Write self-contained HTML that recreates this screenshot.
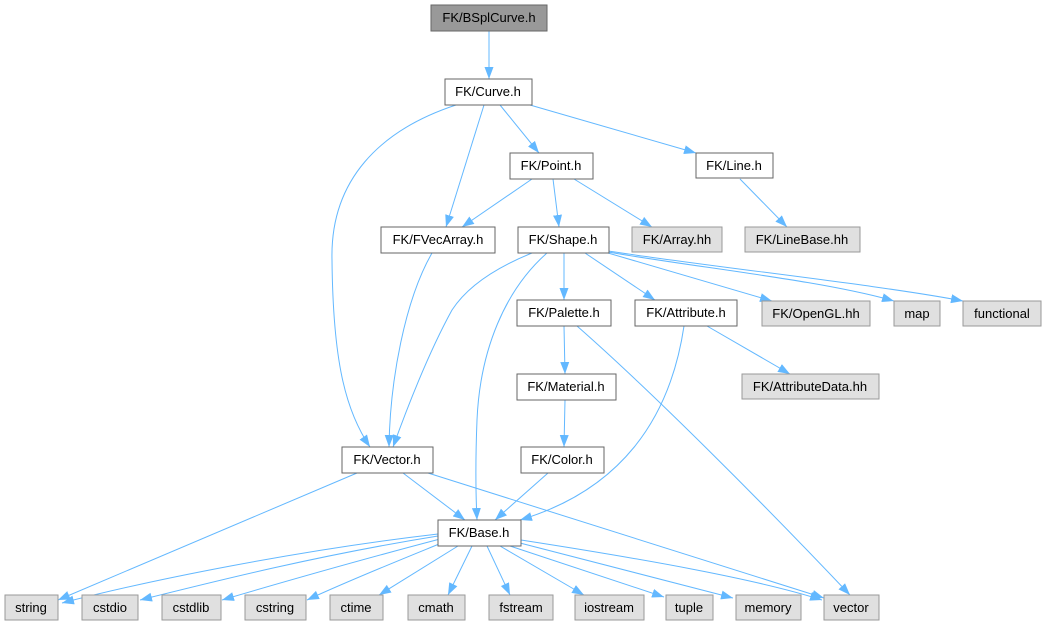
<!DOCTYPE html>
<html><head><meta charset="utf-8"><style>
body{margin:0;background:#fff}
svg{display:block}
text{font-family:"Liberation Sans",sans-serif;font-size:13px;text-anchor:middle}
.n{fill:#fff;stroke:#666;stroke-width:1}
.g{fill:#e0e0e0;stroke:#999;stroke-width:1}
.e{fill:none;stroke:#63b8ff;stroke-width:1}
</style></head><body>
<svg width="1047" height="626" viewBox="0 0 1047 626" xmlns="http://www.w3.org/2000/svg">
<defs><marker id="a" viewBox="0 0 12 10" refX="12" refY="5" markerWidth="12" markerHeight="10" markerUnits="userSpaceOnUse" orient="auto"><path d="M0,0.5 L12,5 L0,9.5 z" fill="#63b8ff"/></marker></defs>
<g marker-end="url(#a)">
<path class="e" d="M489,31 L489,79"/>
<path class="e" d="M456,105 C380,130 330,180 332,260 C333,360 345,410 370,447"/>
<path class="e" d="M484,105 L446,227"/>
<path class="e" d="M500,105 L539,153"/>
<path class="e" d="M530,105 L696,153"/>
<path class="e" d="M532,179 L462,227"/>
<path class="e" d="M553,179 L559,227"/>
<path class="e" d="M574,179 L652,227"/>
<path class="e" d="M740,179 L787,227"/>
<path class="e" d="M432,253 C405,300 390,380 389,447"/>
<path class="e" d="M532,253 C490,270 465,290 452,310 C430,350 410,400 393,447"/>
<path class="e" d="M547,253 C505,290 480,350 477,420 C475,470 476,500 477,520"/>
<path class="e" d="M564,253 L564,300"/>
<path class="e" d="M585,253 L655,300"/>
<path class="e" d="M608,253 L772,301"/>
<path class="e" d="M608,252 C700,268 820,280 894,301"/>
<path class="e" d="M608,251 C720,268 880,285 963,301"/>
<path class="e" d="M564,326 L565,374"/>
<path class="e" d="M577,326 C650,390 760,500 850,595"/>
<path class="e" d="M684,326 C670,420 620,490 520,520"/>
<path class="e" d="M707,326 L790,374"/>
<path class="e" d="M565,400 L564,447"/>
<path class="e" d="M548,473 L495,520"/>
<path class="e" d="M357,473 L58,600"/>
<path class="e" d="M403,473 L465,520"/>
<path class="e" d="M428,473 L824,598"/>
<path class="e" d="M438,534 C300,550 150,580 62,603"/>
<path class="e" d="M438,536 C320,555 220,580 140,600"/>
<path class="e" d="M440,539 C360,560 290,580 222,600"/>
<path class="e" d="M444,542 C400,560 350,580 307,600"/>
<path class="e" d="M458,546 L379,595"/>
<path class="e" d="M472,546 L448,595"/>
<path class="e" d="M487,546 L510,595"/>
<path class="e" d="M500,546 L584,595"/>
<path class="e" d="M510,546 L664,597"/>
<path class="e" d="M520,543 L733,598"/>
<path class="e" d="M521,540 C650,560 760,580 822,600"/>
</g>
<g>
<rect x="431" y="5" width="116" height="26" fill="#999" stroke="#666"/><text x="489" y="22">FK/BSplCurve.h</text>
<rect class="n" x="445" y="79" width="87" height="26"/><text x="488" y="96">FK/Curve.h</text>
<rect class="n" x="510" y="153" width="83" height="26"/><text x="551" y="170">FK/Point.h</text>
<rect class="n" x="696" y="153" width="77" height="25"/><text x="734" y="170">FK/Line.h</text>
<rect class="n" x="381" y="227" width="114" height="26"/><text x="438" y="244">FK/FVecArray.h</text>
<rect class="n" x="518" y="227" width="91" height="26"/><text x="563" y="244">FK/Shape.h</text>
<rect class="g" x="632" y="227" width="90" height="25"/><text x="677" y="244">FK/Array.hh</text>
<rect class="g" x="745" y="227" width="115" height="25"/><text x="802" y="244">FK/LineBase.hh</text>
<rect class="n" x="517" y="300" width="94" height="26"/><text x="564" y="317">FK/Palette.h</text>
<rect class="n" x="635" y="300" width="102" height="26"/><text x="686" y="317">FK/Attribute.h</text>
<rect class="g" x="762" y="301" width="108" height="25"/><text x="816" y="318">FK/OpenGL.hh</text>
<rect class="g" x="894" y="301" width="46" height="25"/><text x="917" y="318">map</text>
<rect class="g" x="963" y="301" width="78" height="25"/><text x="1002" y="318">functional</text>
<rect class="n" x="517" y="374" width="99" height="26"/><text x="566" y="391">FK/Material.h</text>
<rect class="g" x="742" y="374" width="137" height="25"/><text x="810" y="391">FK/AttributeData.hh</text>
<rect class="n" x="521" y="447" width="83" height="26"/><text x="562" y="464">FK/Color.h</text>
<rect class="n" x="342" y="447" width="91" height="26"/><text x="387" y="464">FK/Vector.h</text>
<rect class="n" x="438" y="520" width="83" height="26"/><text x="479" y="537">FK/Base.h</text>
<rect class="g" x="5" y="595" width="53" height="25"/><text x="31" y="612">string</text>
<rect class="g" x="82" y="595" width="56" height="25"/><text x="110" y="612">cstdio</text>
<rect class="g" x="162" y="595" width="59" height="25"/><text x="191" y="612">cstdlib</text>
<rect class="g" x="245" y="595" width="61" height="25"/><text x="275" y="612">cstring</text>
<rect class="g" x="330" y="595" width="53" height="25"/><text x="356" y="612">ctime</text>
<rect class="g" x="408" y="595" width="57" height="25"/><text x="436" y="612">cmath</text>
<rect class="g" x="489" y="595" width="64" height="25"/><text x="521" y="612">fstream</text>
<rect class="g" x="575" y="595" width="69" height="25"/><text x="609" y="612">iostream</text>
<rect class="g" x="666" y="595" width="47" height="25"/><text x="689" y="612">tuple</text>
<rect class="g" x="736" y="595" width="65" height="25"/><text x="768" y="612">memory</text>
<rect class="g" x="824" y="595" width="55" height="25"/><text x="851" y="612">vector</text>
</g>
</svg>
</body></html>
